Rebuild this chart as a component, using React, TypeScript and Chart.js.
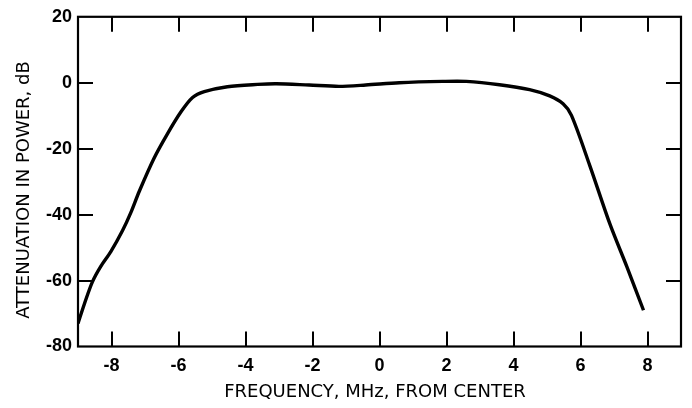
import React, { useEffect, useRef } from "react";
import { Chart, registerables } from "chart.js";

Chart.register(...registerables);

// Frequency offset from the centre frequency, MHz
const freqMHz = [
  -9.0, -8.81, -8.57, -8.32, -8.02, -7.67, -7.42, -7.17, -6.73, -6.33, -5.93,
  -5.58, -5.23, -4.54, -3.64, -3.08, -2.1, -1.21, -0.41, 0.59, 1.89, 2.59,
  3.58, 4.48, 5.08, 5.48, 5.73, 6.28, 6.88, 7.38, 7.88,
];

// Attenuation in power, dB
const attenuationDb = [
  -73.0, -67.1, -60.4, -55.7, -51.2, -44.8, -39.3, -32.9, -22.9, -15.5, -8.9,
  -4.5, -2.7, -1.2, -0.5, -0.3, -0.7, -1.1, -0.7, 0.0, 0.4, 0.4, -0.6, -2.1,
  -4.0, -6.4, -9.9, -25.2, -42.9, -55.7, -69.0,
];

const xTickValues = [-8, -6, -4, -2, 0, 2, 4, 6, 8];
const yTickValues = [20, 0, -20, -40, -60, -80];

const xTitle = "FREQUENCY, MHz, FROM CENTER";
const yTitle = "ATTENUATION IN POWER, dB";

const TICK_FONT = "'Liberation Sans', Arial, sans-serif";
const TITLE_FONT = "'DejaVu Sans', sans-serif";

// Boxed frame with short inward tick marks on all four sides
const framePlugin = {
  id: "frameTicks",
  afterDatasetsDraw(chart: any) {
    const { ctx, chartArea } = chart;
    const { left, right, top, bottom } = chartArea;
    const xs = chart.scales.x;
    const ys = chart.scales.y;
    const len = 15;
    ctx.save();
    ctx.strokeStyle = "#000";
    ctx.lineWidth = 2;
    ctx.beginPath();
    xTickValues.forEach((v) => {
      const px = Math.round(xs.getPixelForValue(v));
      ctx.moveTo(px, bottom);
      ctx.lineTo(px, bottom - len);
      ctx.moveTo(px, top);
      ctx.lineTo(px, top + len);
    });
    yTickValues.forEach((v) => {
      const py = Math.round(ys.getPixelForValue(v));
      if (py <= top + 1 || py >= bottom - 1) return;
      ctx.moveTo(left, py);
      ctx.lineTo(left + len, py);
      ctx.moveTo(right, py);
      ctx.lineTo(right - len, py);
    });
    ctx.stroke();
    ctx.lineWidth = 2.2;
    ctx.strokeRect(left, top, right - left, bottom - top);
    ctx.restore();
  },
};

// Axis titles
const titlesPlugin = {
  id: "axisTitles",
  afterDraw(chart: any) {
    const { ctx } = chart;
    ctx.save();
    ctx.fillStyle = "#000";
    ctx.font = `18px ${TITLE_FONT}`;
    ctx.textAlign = "center";
    ctx.textBaseline = "alphabetic";
    ctx.fillText(xTitle, 375, 397);
    ctx.translate(28.5, 190);
    ctx.rotate(-Math.PI / 2);
    ctx.fillText(yTitle, 0, 0);
    ctx.restore();
  },
};

export default function App() {
  const canvasRef = useRef<HTMLCanvasElement | null>(null);

  useEffect(() => {
    const canvas = canvasRef.current;
    if (!canvas) return;
    const chart = new Chart(canvas, {
      type: "line",
      data: {
        datasets: [
          {
            data: freqMHz.map((f, i) => ({ x: f, y: attenuationDb[i] })),
            borderColor: "#000",
            borderWidth: 3.4,
            pointRadius: 0,
            tension: 0.3,
            fill: false,
          },
        ],
      },
      options: {
        animation: false,
        responsive: false,
        devicePixelRatio: 1,
        layout: { padding: { top: 10, right: 11, left: 0, bottom: 0 } },
        plugins: {
          legend: { display: false },
          tooltip: { enabled: false },
        },
        scales: {
          x: {
            type: "linear",
            min: -9,
            max: 9,
            afterBuildTicks: (scale: any) => {
              scale.ticks = xTickValues.map((v) => ({ value: v }));
            },
            afterFit: (scale: any) => {
              scale.height = 61.5;
            },
            grid: { display: false, drawTicks: false },
            border: { display: false },
            ticks: {
              color: "#000",
              padding: 9,
              maxRotation: 0,
              font: { family: TICK_FONT, size: 18, weight: "bold" },
            },
            title: { display: false },
          },
          y: {
            type: "linear",
            min: -80,
            max: 20,
            afterBuildTicks: (scale: any) => {
              scale.ticks = yTickValues.map((v) => ({ value: v }));
            },
            afterFit: (scale: any) => {
              scale.width = 78;
            },
            grid: { display: false, drawTicks: false },
            border: { display: false },
            ticks: {
              color: "#000",
              padding: 6,
              font: { family: TICK_FONT, size: 18, weight: "bold" },
            },
            title: { display: false },
          },
        },
      },
      plugins: [framePlugin, titlesPlugin],
    } as any);
    return () => chart.destroy();
  }, []);

  return (
    <div
      style={{
        position: "fixed",
        left: 0,
        top: 0,
        width: 692,
        height: 408,
        background: "#fff",
      }}
    >
      <canvas ref={canvasRef} width={692} height={408} />
    </div>
  );
}
